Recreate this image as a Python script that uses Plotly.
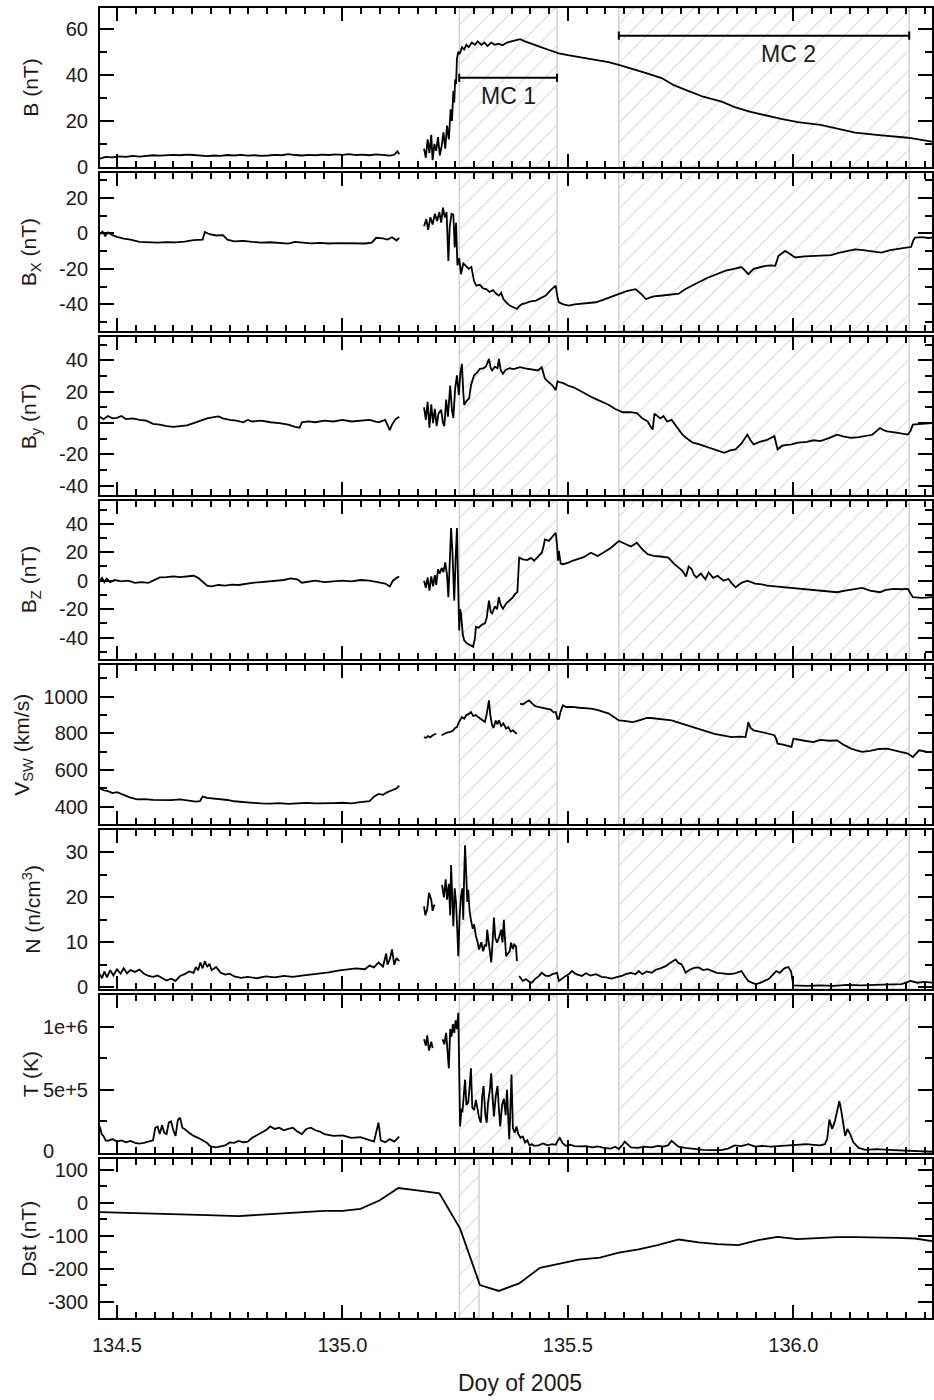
import plotly.graph_objects as go

# ---------------- data ----------------
B_t = [134.462, 134.475, 134.49, 134.505, 134.52, 134.535, 134.55, 134.565, 134.58, 134.595, 134.61, 134.625,
       134.64, 134.655, 134.67, 134.685, 134.70, 134.715, 134.73, 134.745, 134.76, 134.775, 134.79, 134.805,
       134.82, 134.835, 134.85, 134.865, 134.88, 134.895, 134.91, 134.925, 134.94, 134.955, 134.97, 134.985,
       135.00, 135.015, 135.03, 135.045, 135.06, 135.075, 135.09, 135.105, 135.115, 135.122, 135.126, 135.15,
       135.181, 135.185, 135.189, 135.193, 135.197, 135.200, 135.204, 135.208, 135.212, 135.216, 135.220,
       135.224, 135.228, 135.232, 135.236, 135.240, 135.243, 135.246, 135.248, 135.250, 135.252, 135.254,
       135.257, 135.260, 135.265, 135.270, 135.275, 135.280, 135.287, 135.294, 135.300, 135.308, 135.315,
       135.322, 135.330, 135.338, 135.346, 135.355, 135.365, 135.375, 135.385, 135.394, 135.405, 135.418,
       135.430, 135.440, 135.455, 135.470, 135.480, 135.50, 135.53, 135.56, 135.59, 135.613, 135.64, 135.67,
       135.708, 135.735, 135.761, 135.80, 135.841, 135.87, 135.903, 135.94, 135.973, 136.01, 136.06, 136.10,
       136.137, 136.19, 136.254, 136.3075]
B_v = [3.6, 4.4, 4.2, 4.6, 4.4, 4.8, 4.5, 4.9, 5.1, 4.9, 5.2, 5.3, 5.1, 5.4, 5.2, 5.0, 4.7, 5.0, 4.8, 5.2,
       5.0, 5.3, 4.9, 5.1, 4.8, 5.0, 5.3, 5.1, 5.6, 5.2, 5.0, 5.3, 5.1, 5.4, 5.2, 5.5, 5.3, 5.6, 5.2, 5.4,
       5.1, 5.5, 5.2, 4.9, 5.3, 6.8, 5.5, None,
       8, 4, 12, 6, 14, 3, 10, 7, 13, 5, 9, 15, 8, 18, 12, 25, 20, 33, 28, 38, 36, 47, 50, 49, 52, 51, 53,
       52, 54, 53, 54.5, 53, 54, 52.5, 54, 53, 53.5, 52.8, 54, 54.5, 55, 55.5, 54.5, 53.5, 52.8, 52, 51, 50,
       49.3, 48.5, 47.5, 46.5, 45.5, 44.3, 42.8, 41, 38.6, 35.5, 33.5, 30.5, 28.4, 26, 24, 22.3, 20.9, 19.5,
       18.3, 16.5, 14.9, 13.8, 12.7, 11]

BX_t = [134.462, 134.468, 134.474, 134.48, 134.49, 134.50, 134.515, 134.53, 134.55, 134.57, 134.59, 134.61,
        134.63, 134.65, 134.67, 134.69, 134.695, 134.705, 134.72, 134.735, 134.745, 134.76, 134.78, 134.80,
        134.82, 134.84, 134.86, 134.88, 134.895, 134.91, 134.93, 134.95, 134.97, 134.99, 135.01, 135.03,
        135.05, 135.065, 135.075, 135.09, 135.10, 135.11, 135.12, 135.126, 135.15,
        135.181, 135.186, 135.190, 135.195, 135.200, 135.205, 135.210, 135.215, 135.219, 135.223, 135.227,
        135.231, 135.235, 135.238, 135.242, 135.246, 135.249, 135.252, 135.255, 135.259, 135.263, 135.268,
        135.274, 135.280, 135.286, 135.292, 135.297, 135.305, 135.312, 135.319, 135.326, 135.334, 135.341,
        135.347, 135.352, 135.357, 135.363, 135.370, 135.378, 135.387, 135.392, 135.398, 135.405, 135.415,
        135.429, 135.440, 135.451, 135.462, 135.473, 135.477, 135.480, 135.490, 135.502, 135.515, 135.530,
        135.545, 135.562, 135.578, 135.595, 135.613, 135.630, 135.650, 135.662, 135.673, 135.690, 135.710,
        135.730, 135.746, 135.760, 135.774, 135.790, 135.810, 135.830, 135.850, 135.868, 135.885, 135.893,
        135.900, 135.912, 135.925, 135.938, 135.950, 135.960, 135.967, 135.975, 135.982, 135.992, 136.004,
        136.025, 136.045, 136.065, 136.084, 136.100, 136.120, 136.137, 136.155, 136.175, 136.195, 136.215,
        136.235, 136.250, 136.261, 136.266, 136.270, 136.285, 136.300, 136.3075]
BX_v = [-0.5, 1, -1.5, 0.5, -1, -2, -3, -3.5, -4.8, -5, -5.2, -4.9, -5.1, -4.6, -3.8, -3.5, 0.8, -0.5, -1.2,
        -1, -3.5, -4.5, -4.2, -4.8, -5.2, -5, -5.5, -5.8, -4.8, -5.2, -5.6, -5.4, -5.7, -5.5, -5.6, -5.4,
        -5.7, -5.2, -2.5, -2.8, -3.5, -2.2, -4, -2.5, None,
        4, 8, 2, 9, 5, 11, 7, 12, 6, 14.5, 9, 12, -15.5, 4, 11, 10.6, -8, 6, -18, -14, -23, -17, -18.3, -20,
        -19, -27, -29.5, -29, -31, -31.4, -33, -32, -34, -35, -33.5, -37, -38.8, -40.5, -41.5, -42.6, -41,
        -39.8, -39.5, -38.5, -37.9, -36.5, -35, -32, -29.5, -36, -38.8, -40, -40.7, -40, -39.5, -39, -38.8,
        -37.5, -36, -34, -32.5, -31.4, -34, -37, -35.5, -35, -34.5, -34, -31.5, -29.5, -27.5, -25, -23, -21,
        -20, -19, -21, -23, -20, -19, -18.3, -18, -18.3, -12.7, -11, -9.9, -11.5, -13.6, -13, -12.8, -12.6,
        -12.3, -11, -10, -9, -9.5, -10.2, -10.8, -9.5, -8.5, -8, -7.7, -4, -2.4, -2.1, -2.6, -2.4]

BY_t = [134.462, 134.47, 134.48, 134.49, 134.50, 134.51, 134.52, 134.535, 134.55, 134.565, 134.58, 134.595,
        134.61, 134.625, 134.64, 134.655, 134.67, 134.685, 134.70, 134.715, 134.725, 134.735, 134.75, 134.765,
        134.78, 134.79, 134.80, 134.82, 134.84, 134.86, 134.88, 134.895, 134.905, 134.91, 134.925, 134.94,
        134.96, 134.98, 135.00, 135.02, 135.04, 135.06, 135.08, 135.095, 135.105, 135.11, 135.118, 135.126,
        135.15,
        135.181, 135.185, 135.189, 135.193, 135.197, 135.201, 135.205, 135.209, 135.213, 135.219, 135.223,
        135.226, 135.230, 135.234, 135.239, 135.243, 135.246, 135.250, 135.254, 135.258, 135.262, 135.265,
        135.268, 135.270, 135.275, 135.281, 135.285, 135.292, 135.298, 135.305, 135.312, 135.318, 135.325,
        135.329, 135.332, 135.338, 135.344, 135.347, 135.351, 135.356, 135.362, 135.370, 135.380, 135.394,
        135.405, 135.415, 135.425, 135.434, 135.442, 135.446, 135.449, 135.458, 135.466, 135.473, 135.477,
        135.480, 135.490, 135.500, 135.511, 135.525, 135.540, 135.551, 135.565, 135.578, 135.591, 135.605,
        135.622, 135.638, 135.653, 135.665, 135.677, 135.683, 135.688, 135.692, 135.695, 135.705, 135.712,
        135.720, 135.730, 135.742, 135.754, 135.765, 135.777, 135.790, 135.805, 135.816, 135.830, 135.847,
        135.860, 135.872, 135.885, 135.898, 135.905, 135.912, 135.925, 135.940, 135.958, 135.965, 135.975,
        135.985, 135.996, 136.010, 136.030, 136.045, 136.060, 136.080, 136.097, 136.110, 136.128, 136.145,
        136.161, 136.175, 136.185, 136.192, 136.200, 136.208, 136.225, 136.240, 136.254, 136.260, 136.265,
        136.285, 136.3075]
BY_v = [4, 2.5, 4.5, 3, 3.3, 4.5, 2.5, 3, 2, 1.5, -0.5, -1, -2, -2.5, -2, -1.5, 0, 1.5, 3, 3.8, 4.2, 3, 2,
        1.5, 0.5, 2, 1, 1.5, 0.5, 0, -1, -2.5, -3, 0.5, 1, 0.5, 1.5, 1, 2, 1, 1.5, 2, 0.5, 2, -4.5, -1, 2.5,
        4, None,
        10, 2, 13.6, -3, 12, 0, 9, -2, 6, 8.4, 0, -2, 15, 4, 24, 8, 3.3, 22, 30.5, 18, 33, 37.8, 20, 11.5,
        14, 15.8, 24, 30.5, 32, 34.7, 35, 36, 41, 35, 33.6, 36, 35, 41, 34, 31.5, 34, 35, 34.5, 35.7, 35,
        34.5, 34, 33.6, 35.7, 31, 28.4, 26, 24, 21, 27, 26.2, 25.5, 24, 23, 21, 18.5, 16.8, 15, 13.5, 11.5,
        9, 6.9, 7, 6.3, 3, 1, -2, -4.2, 6, 5.2, 3, 4.5, 1, 2, -3, -7.4, -10, -12.6, -13.5, -15, -15.8, -17,
        -19, -17.5, -16.8, -13, -7.4, -11, -13.7, -12, -11, -8.4, -16.8, -14.5, -14, -13.7, -12.5, -12, -11,
        -11.6, -9.5, -7.4, -8.5, -9.5, -9, -8.4, -7.5, -5, -3.2, -4.5, -5.3, -6, -6.5, -7.4, -5, -1, -0.5, 0]

BZ_t = [134.462, 134.467, 134.472, 134.477, 134.485, 134.495, 134.51, 134.525, 134.54, 134.555, 134.57, 134.58,
        134.595, 134.61, 134.625, 134.64, 134.655, 134.67, 134.68, 134.69, 134.70, 134.71, 134.725, 134.74,
        134.755, 134.77, 134.785, 134.80, 134.82, 134.84, 134.86, 134.87, 134.885, 134.90, 134.91, 134.925,
        134.94, 134.96, 134.98, 135.00, 135.02, 135.04, 135.06, 135.08, 135.095, 135.105, 135.112, 135.12,
        135.126, 135.15,
        135.181, 135.185, 135.189, 135.193, 135.197, 135.201, 135.205, 135.208, 135.212, 135.216, 135.220,
        135.224, 135.228, 135.232, 135.235, 135.238, 135.241, 135.244, 135.248, 135.251, 135.254, 135.256,
        135.259, 135.261, 135.263, 135.267, 135.270, 135.276, 135.283, 135.290, 135.294, 135.296, 135.302,
        135.309, 135.316, 135.320, 135.325, 135.329, 135.332, 135.338, 135.343, 135.347, 135.351, 135.356,
        135.363, 135.370, 135.377, 135.383, 135.388, 135.392, 135.400, 135.410, 135.418, 135.425, 135.433,
        135.442, 135.446, 135.449, 135.458, 135.466, 135.473, 135.476, 135.478, 135.480, 135.484, 135.489,
        135.500, 135.510, 135.520, 135.535, 135.551, 135.566, 135.580, 135.595, 135.613, 135.628, 135.640,
        135.653, 135.665, 135.677, 135.690, 135.705, 135.723, 135.735, 135.745, 135.754, 135.762, 135.768,
        135.774, 135.780, 135.785, 135.795, 135.805, 135.812, 135.822, 135.832, 135.845, 135.856, 135.864,
        135.872, 135.885, 135.898, 135.915, 135.930, 135.942, 135.960, 135.980, 136.000, 136.020, 136.040,
        136.060, 136.080, 136.097, 136.115, 136.135, 136.153, 136.170, 136.192, 136.205, 136.223, 136.240,
        136.254, 136.260, 136.265, 136.285, 136.3075]
BZ_v = [0, 2, -1, 1.5, -1, 0.5, -0.5, 0, -1.5, -1, -1.5, 0, 2.3, 2.5, 3, 2.5, 3.2, 3.5, 2, -1, -3.5, -4, -3,
        -3.5, -2.8, -3, -2, -1.5, -1, -0.5, 0, 0.5, 1.6, 1, -1.4, -0.5, 0, -1, -0.5, 0, -0.5, 0.5, 0, -1, -2,
        -4, 0, 2, 3, None,
        0, -5, 2.3, -7, 3, -4, 4, -3, 8, 5, 9, 6, 12.8, 4, -11.6, 10, 37, 20, -14, 15, 37, 5, -35, -20, -23,
        -38, -41.8, -44, -45, -46.5, -40, -32.5, -33, -31, -30, -26, -14, -22, -23, -18, -20, -11.6, -17,
        -19.7, -16, -14, -12, -9.3, -8, 16.2, 15, 14.5, 16, 14, 17, 19.7, 24, 29, 28, 31, 33.7, 25, 14, 21,
        12, 11.6, 12.5, 14, 15.1, 16.5, 19.7, 17.4, 20, 23, 27.9, 25.6, 24, 26.7, 22, 18.6, 17.5, 17, 16.2,
        12, 9, 7, 3, 10, 8.4, 4, 2.3, 5, 1, 5.8, 2, 3.5, 0, 1.2, -2, -4.6, -1.5, 0, -2, -2.5, -3.5, -4,
        -4.6, -5.2, -5.8, -6.5, -7, -7.5, -8.1, -7, -6, -5.1, -7, -8.1, -6.5, -5.8, -6, -5.8, -9, -11.6, -12,
        -11.6]

V_t = [134.462, 134.47, 134.48, 134.49, 134.50, 134.51, 134.52, 134.53, 134.545, 134.56, 134.58, 134.60,
       134.62, 134.64, 134.66, 134.675, 134.684, 134.69, 134.70, 134.715, 134.73, 134.745, 134.76, 134.78,
       134.80, 134.82, 134.84, 134.86, 134.88, 134.90, 134.92, 134.94, 134.96, 134.98, 135.00, 135.02, 135.04,
       135.06, 135.07, 135.08, 135.09, 135.10, 135.11, 135.12, 135.126, 135.15,
       135.181, 135.185, 135.190, 135.195, 135.200, 135.205, 135.208, 135.213, 135.220, 135.226, 135.232,
       135.239, 135.245, 135.250, 135.254, 135.258, 135.262, 135.265, 135.270, 135.275, 135.280, 135.285,
       135.290, 135.296, 135.301, 135.308, 135.316, 135.320, 135.323, 135.325, 135.328, 135.332, 135.335,
       135.340, 135.344, 135.347, 135.352, 135.357, 135.363, 135.368, 135.373, 135.378, 135.383, 135.387,
       135.390, 135.394, 135.400, 135.407, 135.414, 135.420, 135.427, 135.434, 135.444, 135.454, 135.462,
       135.468, 135.473, 135.477, 135.480, 135.484, 135.489, 135.496, 135.510, 135.525, 135.540, 135.551,
       135.565, 135.578, 135.591, 135.602, 135.613, 135.625, 135.644, 135.660, 135.675, 135.684, 135.700,
       135.715, 135.730, 135.742, 135.754, 135.770, 135.785, 135.800, 135.812, 135.825, 135.840, 135.852,
       135.863, 135.880, 135.894, 135.898, 135.900, 135.905, 135.912, 135.925, 135.940, 135.958, 135.962,
       135.965, 135.975, 135.985, 135.996, 136.000, 136.010, 136.025, 136.044, 136.060, 136.080, 136.097,
       136.110, 136.120, 136.128, 136.140, 136.153, 136.170, 136.190, 136.208, 136.225, 136.240, 136.254,
       136.265, 136.279, 136.295, 136.3075]
V_v = [500, 490, 485, 475, 480, 470, 462, 450, 440, 442, 438, 437, 436, 440, 432, 428, 430, 455, 448, 445, 440,
       437, 430, 425, 420, 418, 417, 420, 416, 419, 421, 418, 417, 420, 422, 419, 425, 430, 455, 470, 465,
       480, 490, 500, 515, None,
       780, 775, 785, 778, 790, 795, 798, None, 790, 798, 805, 808, 815, 830, 835, 860, 875, 889, 880, 900,
       905, 916, 895, 900, 889, 875, 862, 905, 960, 980, 900, 844, 830, 870, 850, 871, 840, 855, 826, 835,
       810, 817, 805, 798, None, 962, 958, 970, 980, 965, 950, 944, 940, 935, 930, 915, 917, 880, 880, 920,
       953, 944, 945, 940, 937, 935, 928, 918, 908, 890, 871, 868, 862, 873, 884, 884, 880, 877, 871, 862,
       853, 840, 826, 815, 806, 798, 790, 785, 780, 782, 780, 830, 862, 830, 817, 810, 800, 790, 770, 744,
       740, 735, 726, 771, 765, 760, 753, 765, 760, 762, 740, 725, 717, 708, 699, 705, 715, 717, 705, 698,
       690, 671, 708, 700, 699]

N_t = [134.462, 134.467, 134.472, 134.478, 134.485, 134.492, 134.50, 134.508, 134.515, 134.522, 134.53,
       134.54, 134.55, 134.56, 134.57, 134.58, 134.59, 134.60, 134.61, 134.62, 134.63, 134.64, 134.65, 134.66,
       134.67, 134.675, 134.68, 134.685, 134.69, 134.695, 134.70, 134.705, 134.71, 134.72, 134.73, 134.74,
       134.75, 134.76, 134.775, 134.79, 134.81, 134.83, 134.85, 134.87, 134.89, 134.91, 134.93, 134.95,
       134.97, 134.99, 135.01, 135.03, 135.05, 135.06, 135.07, 135.08, 135.09, 135.097, 135.10, 135.105,
       135.11, 135.115, 135.12, 135.126, 135.15,
       135.181, 135.184, 135.188, 135.192, 135.197, 135.200, 135.204, 135.212, 135.221, 135.225, 135.229,
       135.232, 135.236, 135.239, 135.241, 135.244, 135.246, 135.249, 135.252, 135.255, 135.257, 135.260,
       135.263, 135.266, 135.268, 135.270, 135.272, 135.275, 135.277, 135.279, 135.282, 135.285, 135.289,
       135.292, 135.296, 135.300, 135.303, 135.308, 135.312, 135.316, 135.319, 135.321, 135.325, 135.328,
       135.330, 135.333, 135.336, 135.339, 135.343, 135.347, 135.352, 135.355, 135.358, 135.361, 135.363,
       135.367, 135.371, 135.374, 135.378, 135.381, 135.385, 135.387, 135.389, 135.392, 135.396, 135.400,
       135.407, 135.413, 135.420, 135.427, 135.435, 135.442, 135.450, 135.458, 135.466, 135.476, 135.480,
       135.487, 135.495, 135.502, 135.509, 135.518, 135.531, 135.540, 135.550, 135.562, 135.575, 135.585,
       135.597, 135.610, 135.620, 135.628, 135.640, 135.650, 135.657, 135.665, 135.675, 135.686, 135.695,
       135.705, 135.717, 135.725, 135.733, 135.739, 135.745, 135.752, 135.757, 135.761, 135.770, 135.780,
       135.790, 135.800, 135.810, 135.819, 135.830, 135.843, 135.856, 135.868, 135.878, 135.885, 135.892,
       135.900, 135.908, 135.916, 135.925, 135.935, 135.945, 135.952, 135.962, 135.970, 135.980, 135.989,
       135.995, 136.000, 136.030, 136.060, 136.090, 136.120, 136.150, 136.180, 136.210, 136.240, 136.260,
       136.275, 136.290, 136.3075]
N_v = [2.9, 2, 3.5, 2.2, 3.8, 2.6, 4, 3, 4.2, 3.1, 3.8, 3.4, 3.9, 3.0, 2.5, 2.3, 2.6, 2.1, 1.5, 1.9, 1.4, 2.5,
       2.9, 3.5, 3.2, 4.5, 3.8, 5.5, 4.2, 5.8, 4.5, 5.2, 3.8, 4.5, 3.2, 2.8, 3, 2.4, 2.1, 2.3, 2.0, 2.4, 2.2,
       2.5, 2.3, 2.6, 2.8, 3.1, 3.3, 3.7, 3.9, 4.2, 4.0, 4.8, 4.4, 5.5, 4.6, 7.5, 5, 6.2, 8.4, 5, 6.5, 5.8,
       None,
       18, 16, 17.3, 21, 19.5, 17, 18.4, None, 22.8, 20, 24, 19.5, 23, 16, 27.2, 20, 13.6, 22, 18.8, 12, 6.9,
       16, 20.2, 22, 15, 25, 31.6, 24, 19, 21.7, 17, 15, 13, 14, 11.4, 10, 8.4, 10, 8, 9.5, 9.1, 12.8, 9, 7,
       5.5, 10, 15.5, 11, 9.9, 11, 12.8, 10, 15, 10, 6.9, 7.5, 8, 9.9, 8.5, 9.5, 9.1, 5.8, None, 2.5, 1.9,
       1.4, 1.8, 1.3, 1, 1.8, 2.4, 3.2, 2.6, 2.5, 2.9, 3.2, 1.4, 2, 2.5, 2.9, 3.6, 2.9, 2.5, 3.1, 2.6, 2.9,
       2.3, 2.2, 1.9, 2.3, 2.5, 2.9, 3.2, 2.9, 3.6, 2.9, 3.5, 3.2, 3.9, 4.2, 4.7, 5.3, 5.8, 6.2, 5.4, 5.1,
       4.2, 3.2, 3.9, 4.3, 4.4, 3.8, 4, 3.6, 3.2, 3.1, 2.9, 3, 3.3, 3.6, 2.5, 1.4, 1, 0.7, 0.9, 1.4, 1.8,
       2.5, 3.6, 3.2, 4.2, 4.5, 3.5, 0.4, 0.3, 0.4, 0.3, 0.5, 0.4, 0.5, 0.6, 0.7, 1.4, 1, 1.2, 1.0]

T_t = [134.462, 134.466, 134.470, 134.475, 134.48, 134.49, 134.50, 134.51, 134.52, 134.53, 134.54, 134.55,
       134.56, 134.57, 134.58, 134.585, 134.59, 134.595, 134.60, 134.605, 134.61, 134.615, 134.62, 134.625,
       134.63, 134.635, 134.64, 134.645, 134.65, 134.66, 134.67, 134.68, 134.69, 134.70, 134.705, 134.71,
       134.72, 134.73, 134.74, 134.75, 134.76, 134.77, 134.78, 134.79, 134.80, 134.81, 134.82, 134.83, 134.84,
       134.85, 134.86, 134.87, 134.88, 134.89, 134.90, 134.91, 134.92, 134.93, 134.94, 134.95, 134.96, 134.98,
       135.00, 135.02, 135.04, 135.06, 135.07, 135.08, 135.085, 135.095, 135.105, 135.115, 135.126, 135.15,
       135.181, 135.185, 135.188, 135.192, 135.197, 135.200, 135.210, 135.222, 135.226, 135.230, 135.233,
       135.236, 135.239, 135.242, 135.245, 135.248, 135.251, 135.254, 135.257, 135.259, 135.261, 135.264,
       135.266, 135.269, 135.272, 135.275, 135.279, 135.282, 135.285, 135.288, 135.292, 135.296, 135.300,
       135.303, 135.307, 135.310, 135.313, 135.317, 135.320, 135.323, 135.327, 135.330, 135.333, 135.336,
       135.340, 135.344, 135.347, 135.350, 135.354, 135.358, 135.362, 135.365, 135.368, 135.370, 135.372,
       135.375, 135.378, 135.382, 135.386, 135.390, 135.395, 135.400, 135.405, 135.410, 135.415, 135.420,
       135.425, 135.435, 135.445, 135.455, 135.465, 135.473, 135.478, 135.482, 135.488, 135.495, 135.505,
       135.515, 135.525, 135.540, 135.555, 135.566, 135.580, 135.595, 135.605, 135.613, 135.620, 135.626,
       135.632, 135.640, 135.655, 135.670, 135.685, 135.700, 135.712, 135.722, 135.730, 135.737, 135.745,
       135.760, 135.780, 135.800, 135.820, 135.840, 135.855, 135.870, 135.885, 135.900, 135.915, 135.930,
       135.950, 135.970, 135.990, 136.010, 136.030, 136.045, 136.060, 136.070, 136.075, 136.080, 136.086,
       136.092, 136.102, 136.106, 136.110, 136.115, 136.120, 136.126, 136.133, 136.145, 136.160, 136.185,
       136.210, 136.240, 136.254, 136.280, 136.3075]
T_v = [2.1e5, 1.5e5, 1.35e5, 1.0e5, 0.96e5, 1.1e5, 0.9e5, 1.0e5, 0.85e5, 0.96e5, 0.8e5, 0.75e5, 0.8e5,
       0.9e5, 1.0e5, 2.0e5, 2.1e5, 1.5e5, 2.2e5, 1.6e5, 1.5e5, 2.4e5, 2.5e5, 1.8e5, 1.35e5, 2.6e5, 2.8e5,
       2.0e5, 1.9e5, 1.6e5, 1.35e5, 1.2e5, 1.0e5, 0.8e5, 0.6e5, 0.5e5, 0.45e5, 0.5e5, 0.6e5, 0.84e5, 0.8e5,
       0.95e5, 0.85e5, 0.9e5, 1.2e5, 1.4e5, 1.6e5, 1.8e5, 2.1e5, 1.9e5, 2.0e5, 1.8e5, 1.9e5, 2.0e5, 1.7e5,
       1.5e5, 1.9e5, 2.0e5, 1.8e5, 1.7e5, 1.5e5, 1.35e5, 1.4e5, 1.2e5, 1.25e5, 1.0e5, 0.9e5, 2.4e5, 1.0e5,
       0.85e5, 1.1e5, 0.9e5, 1.3e5, None,
       9.0e5, 8.5e5, 9.3e5, 8.1e5, 8.8e5, 8.3e5, None, 9.0e5, 8.6e5, 9.5e5, 8.0e5, 6.7e5, 9.8e5, 9.2e5,
       10.2e5, 9.5e5, 10.5e5, 9.8e5, 11.1e5, 5.0e5, 2.1e5, 3.5e5, 3.2e5, 4.5e5, 5.8e5, 3.8e5, 4.0e5, 5.2e5,
       6.7e5, 3.6e5, 3.4e5, 4.2e5, 3.5e5, 2.8e5, 2.4e5, 4.5e5, 5.3e5, 3.0e5, 2.4e5, 4.0e5, 5.0e5, 6.3e5,
       4.4e5, 2.9e5, 4.5e5, 5.3e5, 3.5e5, 2.1e5, 3.8e5, 4.3e5, 3.0e5, 5.0e5, 2.5e5, 1.1e5, 3.0e5, 6.2e5,
       2.0e5, 1.6e5, 2.1e5, 1.5e5, 1.2e5, 1.3e5, 0.84e5, 1.0e5, 0.6e5, 0.7e5, 0.57e5, 0.6e5, 0.75e5, 0.6e5,
       0.7e5, 0.65e5, 1.0e5, 1.2e5, 0.8e5, 0.57e5, 0.65e5, 0.55e5, 0.52e5, 0.55e5, 0.45e5, 0.52e5, 0.4e5,
       0.35e5, 0.5e5, 0.31e5, 0.6e5, 0.9e5, 0.7e5, 0.45e5, 0.4e5, 0.5e5, 0.45e5, 0.57e5, 0.5e5, 0.6e5,
       0.96e5, 0.75e5, 0.5e5, 0.4e5, 0.3e5, 0.25e5, 0.22e5, 0.23e5, 0.35e5, 0.6e5, 0.55e5, 0.7e5, 0.5e5,
       0.57e5, 0.5e5, 0.55e5, 0.57e5, 0.6e5, 0.7e5, 0.65e5, 0.6e5, 0.7e5, 1.1e5, 2.65e5, 1.9e5, 2.5e5, 4.1e5,
       3.4e5, 2.4e5, 1.35e5, 1.9e5, 1.5e5, 0.84e5, 0.4e5, 0.25e5, 0.3e5, 0.25e5, 0.2e5, 0.15e5, 0.12e5,
       0.1e5]

DST_t = [134.462, 134.52, 134.58, 134.64, 134.70, 134.77, 134.82, 134.87, 134.92, 134.96, 135.00, 135.04,
         135.082, 135.124, 135.170, 135.215, 135.261, 135.305, 135.347, 135.392, 135.438, 135.480, 135.524,
         135.571, 135.613, 135.657, 135.699, 135.746, 135.790, 135.832, 135.878, 135.922, 135.965, 136.009,
         136.055, 136.097, 136.140, 136.185, 136.230, 136.270, 136.3075]
DST_v = [-28, -30, -31, -33, -37, -40, -36, -30, -26, -24, -24, -18, 7, 45, 37, 29, -78, -249, -267, -244,
         -197, -184, -172, -166, -151, -141, -128, -111, -120, -125, -128, -113, -103, -110, -107, -104, -104,
         -104, -106, -108, -116]

# shaded intervals (day of year)
MC1 = [135.259, 135.476]
MC2 = [135.613, 136.257]
DST_BOX = [135.259, 135.303]
MC_LABELS = ["MC 1", "MC 2"]

X_RANGE = [134.4624, 136.3075]
X_TICKS = [134.5, 135.0, 135.5, 136.0]

# ---------------- figure ----------------
FONT = "Liberation Sans, Arial, sans-serif"
TXT = "#1a1a1a"
W, H = 934, 1400
ML, MT, MB = 100, 8, 82
PH = H - MT - MB
PW = W - ML


def fmt(v):
    # plain ASCII hyphen for negatives, as in the original figure
    return f"{v:g}"


panels = [
    # t, v, title, range, ticks, minor dtick, ticktext, (top px, bottom px), title x px
    (B_t, B_v, "B (nT)", [0, 69], [0, 20, 40, 60], 10, None, (8, 167), 30),
    (BX_t, BX_v, "B<sub>X</sub> (nT)", [-55, 34], [-40, -20, 0, 20], 10, None, (173, 331), 30),
    (BY_t, BY_v, "B<sub>y</sub> (nT)", [-46, 55], [-40, -20, 0, 20, 40], 10, None, (337, 495), 30),
    (BZ_t, BZ_v, "B<sub>Z</sub> (nT)", [-55, 56], [-40, -20, 0, 20, 40], 10, None, (501, 659), 30),
    (V_t, V_v, "V<sub>SW</sub> (km/s)", [306, 1173], [400, 600, 800, 1000], 100, None, (665, 824), 22),
    (N_t, N_v, "N (n/cm<sup>3</sup>)", [-0.4, 35], [0, 10, 20, 30], 5, None, (830, 989), 31),
    (T_t, T_v, "T (K)", [0, 1.25e6], [5e5, 1e6], 2.5e5, ["5e+5", "1e+6"], (995, 1153), 30),
    (DST_t, DST_v, "Dst (nT)", [-349, 133], [-300, -200, -100, 0, 100], 50, None, (1159, 1318), 28),
]

fig = go.Figure()
layout = {}
annotations = []
n = len(panels)
for i, (t, v, title, rng, tv, mdt, ttext, (ptop, pbot), tx) in enumerate(panels):
    k = "" if i == 0 else str(i + 1)
    xa, ya = "x" + k, "y" + k
    regions = [DST_BOX] if i == n - 1 else [MC1, MC2]
    for (a, b) in regions:
        fig.add_trace(go.Scatter(
            x=[a, a, b, b, a], y=[rng[0], rng[1], rng[1], rng[0], rng[0]],
            mode="lines", fill="toself", fillcolor="rgba(255,255,255,0)",
            fillpattern=dict(shape="/", fgcolor="#bdbdbd", bgcolor="rgba(255,255,255,0)",
                             size=14, solidity=0.09),
            line=dict(color="#bdbdbd", width=1),
            hoverinfo="skip", showlegend=False, xaxis=xa, yaxis=ya))
    fig.add_trace(go.Scatter(x=t, y=v, mode="lines", line=dict(color="black", width=1.8),
                             showlegend=False, xaxis=xa, yaxis=ya, connectgaps=False))
    d0 = (MT + PH - pbot) / PH
    d1 = (MT + PH - ptop) / PH
    yax = dict(domain=[d0, d1], range=rng, anchor=xa, showline=True, linecolor="black", linewidth=2,
               mirror="ticks", ticks="inside", ticklen=14, tickwidth=1.5, tickcolor="black",
               tickmode="array", tickvals=tv,
               ticktext=ttext if ttext is not None else [fmt(x) for x in tv],
               minor=dict(ticks="inside", ticklen=7, tickwidth=1.5, tickcolor="black",
                          tick0=0, dtick=mdt, showgrid=False),
               showgrid=False, zeroline=False, ticklabelstandoff=6,
               tickfont=dict(family=FONT, size=20, color=TXT))
    xax = dict(domain=[0, 1], range=X_RANGE, anchor=ya, showline=True, linecolor="black", linewidth=2,
               mirror="ticks", ticks="inside", ticklen=13, tickwidth=1.5, tickcolor="black",
               tickmode="array", tickvals=X_TICKS, ticktext=[f"{x:.1f}" for x in X_TICKS],
               minor=dict(ticks="inside", ticklen=6, tickwidth=1.5, tickcolor="black",
                          tick0=134.5, dtick=1 / 24, showgrid=False),
               showgrid=False, zeroline=False, showticklabels=(i == n - 1), ticklabelstandoff=8,
               tickfont=dict(family=FONT, size=20, color=TXT))
    if i > 0:
        xax["matches"] = "x"
    layout["xaxis" + k] = xax
    layout["yaxis" + k] = yax
    # rotated axis title
    annotations.append(dict(x=(tx - ML) / PW, y=(d0 + d1) / 2, xref="paper", yref="paper",
                            text=title, textangle=-90, showarrow=False, xanchor="center",
                            yanchor="middle", font=dict(family=FONT, size=21, color=TXT)))

fig.update_layout(**layout)

# the "0" of the temperature axis sits to the left in the original
annotations.append(dict(x=(48 - ML) / PW, y=(MT + PH - 1151) / PH, xref="paper", yref="paper",
                        text="0", showarrow=False, xanchor="center", yanchor="middle",
                        font=dict(family=FONT, size=20, color=TXT)))

# MC interval bars in the B panel
BAR_Y = [38.7, 57.0]
CAP = 1.8
shapes = []
for (a, b), yb in zip([MC1, MC2], BAR_Y):
    shapes.append(dict(type="line", xref="x", yref="y", x0=a, x1=b, y0=yb, y1=yb,
                       line=dict(color="black", width=2)))
    for xe in (a, b):
        shapes.append(dict(type="line", xref="x", yref="y", x0=xe, x1=xe, y0=yb - CAP, y1=yb + CAP,
                           line=dict(color="black", width=2)))

annotations += [
    dict(x=(MC1[0] + MC1[1]) / 2, y=31.0, xref="x", yref="y", text=MC_LABELS[0], showarrow=False,
         font=dict(family=FONT, size=23, color=TXT)),
    dict(x=135.99, y=49.0, xref="x", yref="y", text=MC_LABELS[1], showarrow=False,
         font=dict(family=FONT, size=23, color=TXT)),
    dict(x=(521 - ML) / PW, y=(MT + PH - 1383) / PH, xref="paper", yref="paper",
         text="Doy of 2005", showarrow=False, yanchor="middle",
         font=dict(family=FONT, size=23, color=TXT)),
]

fig.update_layout(width=W, height=H, margin=dict(l=ML, r=0, t=MT, b=MB),
                  plot_bgcolor="white", paper_bgcolor="white",
                  shapes=shapes, annotations=annotations, showlegend=False)

fig.write_html("out.html")
